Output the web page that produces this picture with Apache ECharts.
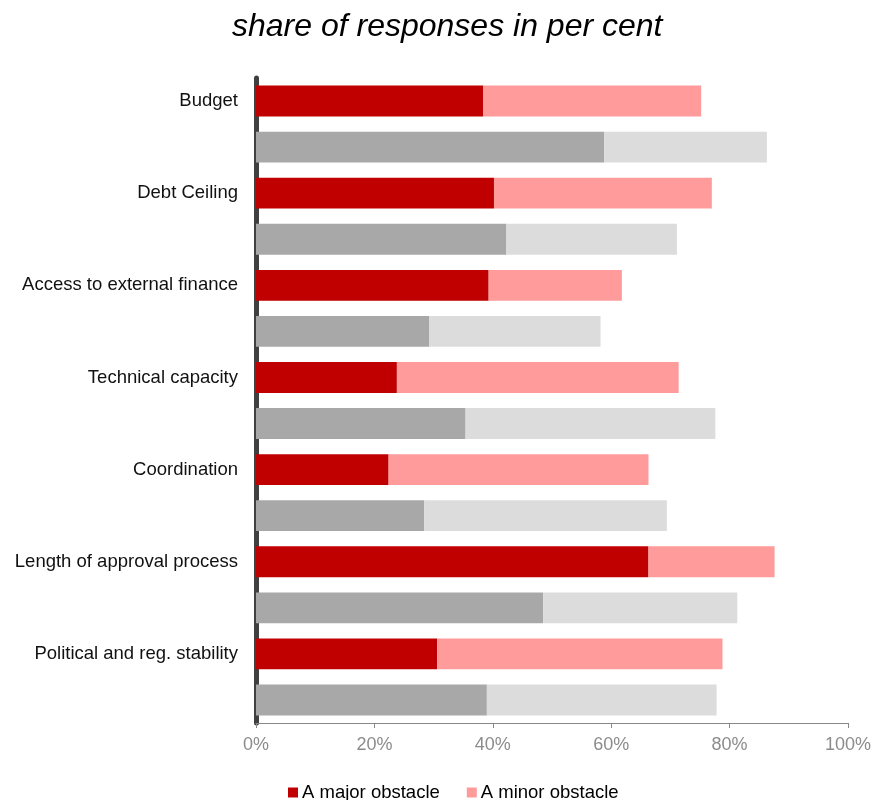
<!DOCTYPE html>
<html>
<head>
<meta charset="utf-8">
<script src="https://cdn.jsdelivr.net/npm/echarts@6/dist/echarts.min.js"></script>
<style>
  html, body { margin: 0; padding: 0; background: #ffffff; }
  #chart { width: 874px; height: 800px; }
</style>
</head>
<body>
<div id="chart"></div>
<script>
// Obstacle categories, top to bottom
const categories = [
  'Budget',
  'Debt Ceiling',
  'Access to external finance',
  'Technical capacity',
  'Coordination',
  'Length of approval process',
  'Political and reg. stability'
];

// Current survey (red bars): share of responses in per cent
const majorCurrent = [38.4, 40.2, 39.3, 23.8, 22.4, 66.3, 30.6];
const minorCurrent = [36.8, 36.8, 22.5, 47.6, 43.9, 21.3, 48.2];

// Previous survey (grey bars)
const majorPrevious = [58.8, 42.3, 29.3, 35.4, 28.4, 48.5, 39.0];
const minorPrevious = [27.5, 28.8, 28.9, 42.2, 41.0, 32.8, 38.8];

const xTicks = [0, 20, 40, 60, 80, 100];

// Each category takes two rows: the red one carries the label, the grey one sits below it
const rows = [];
const redMajor = [], redMinor = [], greyMajor = [], greyMinor = [];
categories.forEach((c, i) => {
  rows.push(c);
  redMajor.push(majorCurrent[i]); redMinor.push(minorCurrent[i]);
  greyMajor.push('-'); greyMinor.push('-');
  rows.push(c + ' ');
  redMajor.push('-'); redMinor.push('-');
  greyMajor.push(majorPrevious[i]); greyMinor.push(minorPrevious[i]);
});

const font = 'Liberation Sans, Arial, sans-serif';
const chart = echarts.init(document.getElementById('chart'), null, { renderer: 'canvas' });

function barSeries(name, data, color) {
  return {
    name: name,
    type: 'bar',
    stack: 'total',
    data: data,
    barCategoryGap: '33%',
    itemStyle: { color: color },
    emphasis: { disabled: true },
    animation: false
  };
}

chart.setOption({
  animation: false,
  title: {
    text: 'share of responses in per cent',
    left: 227,
    top: 6,
    textStyle: { fontFamily: font, fontSize: 32, fontStyle: 'italic', fontWeight: 'normal', color: '#000' }
  },
  legend: {
    data: ['A major obstacle', 'A minor obstacle'],
    top: 783,
    left: 288,
    itemWidth: 10,
    itemHeight: 10,
    itemGap: 27,
    icon: 'rect',
    padding: 0,
    textStyle: { fontFamily: font, fontSize: 18.5, color: '#000', padding: [0, 0, 0, -1] }
  },
  grid: { left: 256, right: 20, top: 78, bottom: 77, containLabel: false },
  xAxis: {
    type: 'value',
    min: xTicks[0],
    max: xTicks[xTicks.length - 1],
    interval: xTicks[1] - xTicks[0],
    axisLine: { show: true, lineStyle: { color: '#888', width: 1 } },
    axisTick: { show: true, length: 5, lineStyle: { color: '#888' } },
    splitLine: { show: false },
    axisLabel: {
      formatter: '{value}%',
      fontFamily: font,
      fontSize: 18,
      color: '#8c8c8c',
      margin: 13
    }
  },
  yAxis: {
    type: 'category',
    data: rows,
    inverse: true,
    axisLine: { show: true, lineStyle: { color: '#404040', width: 5 } },
    axisTick: { show: false },
    axisLabel: {
      fontFamily: font,
      fontSize: 18.5,
      color: '#111',
      margin: 18,
      formatter: v => (v.endsWith(' ') ? '' : v)
    }
  },
  series: [
    barSeries('A major obstacle', redMajor, '#C00000'),
    barSeries('A minor obstacle', redMinor, '#FF9B9B'),
    barSeries('A major obstacle (previous)', greyMajor, '#A8A8A8'),
    barSeries('A minor obstacle (previous)', greyMinor, '#DCDCDC')
  ]
});
</script>
</body>
</html>
